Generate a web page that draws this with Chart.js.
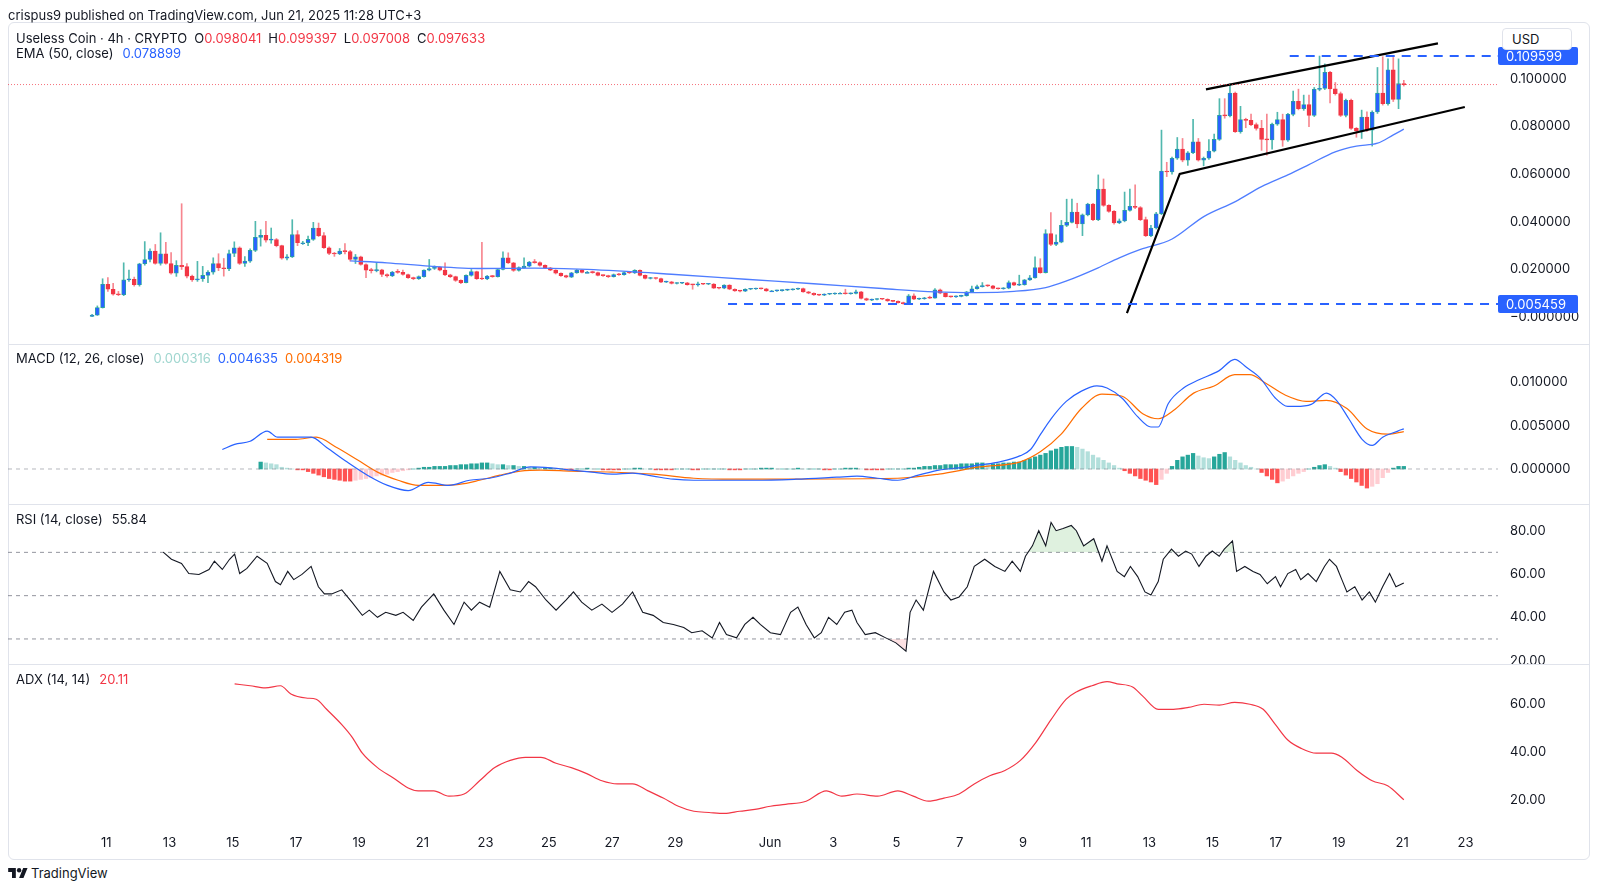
<!DOCTYPE html>
<html>
<head>
<meta charset="utf-8">
<title>Useless Coin 4h</title>
<script src="https://cdn.jsdelivr.net/npm/chart.js@4.4.1/dist/chart.umd.min.js"></script>
<style>
  html, body { margin: 0; padding: 0; background: #fff; }
  body { width: 1600px; height: 890px; position: relative; overflow: hidden;
         font-family: Inter, "Noto Sans", "Liberation Sans", sans-serif; font-size: 13px; color: #131722; }
  canvas, .t, .sep, #frame, #usd, #logo { position: absolute; }
  #frame { left: 8px; top: 22px; width: 1582px; height: 838px; border: 1px solid #e0e3eb;
           border-radius: 6px; box-sizing: border-box; }
  .sep { left: 8px; width: 1582px; height: 1px; background: #e0e3eb; }
  .t { white-space: nowrap; line-height: 16px; height: 16px; }
  .t span { margin-left: 7px; }
  .red { color: #f23645; }
  .blue { color: #2962ff; }
  .orange { color: #ff6d00; }
  .pale { color: #9fd6cf; }
  #usd { left: 1502px; top: 28px; width: 70px; height: 22px; border: 1px solid #e0e3eb; border-radius: 4px;
         box-sizing: border-box; line-height: 20px; padding-left: 9px; background: #fff; }
</style>
</head>
<body>
<div id="frame"></div>
<canvas id="cPrice" width="1582" height="322" style="left:8px;top:22px"></canvas>
<canvas id="cMacd" width="1582" height="160" style="left:8px;top:344px"></canvas>
<canvas id="cRsi" width="1582" height="160" style="left:8px;top:504px"></canvas>
<canvas id="cAdx" width="1582" height="196" style="left:8px;top:664px"></canvas>
<div class="sep" style="top:344px"></div>
<div class="sep" style="top:504px"></div>
<div class="sep" style="top:664px"></div>

<div class="t" style="left:8px;top:7px">crispus9 published on TradingView.com, Jun 21, 2025 11:28 UTC+3</div>
<div class="t" style="left:16px;top:30px">Useless Coin · 4h · CRYPTO<span>O<b class="red" style="font-weight:400">0.098041</b></span><span>H<b class="red" style="font-weight:400">0.099397</b></span><span>L<b class="red" style="font-weight:400">0.097008</b></span><span>C<b class="red" style="font-weight:400">0.097633</b></span></div>
<div class="t" style="left:16px;top:45px">EMA (50, close)<span class="blue" style="margin-left:9px">0.078899</span></div>
<div class="t" style="left:16px;top:350px">MACD (12, 26, close)<span class="pale" style="margin-left:9px">0.000316</span><span class="blue">0.004635</span><span class="orange">0.004319</span></div>
<div class="t" style="left:16px;top:511px">RSI (14, close)<span style="margin-left:9px">55.84</span></div>
<div class="t" style="left:16px;top:671px">ADX (14, 14)<span class="red" style="margin-left:9px">20.11</span></div>
<div id="usd">USD</div>
<svg id="logo" style="left:8px;top:867px" width="20" height="12" viewBox="0 0 36 22">
  <path d="M14 20H7V9H0V2h14v18zM28 20h-8l7.5-18h8L28 20z" fill="#131722"/>
  <circle cx="20" cy="6" r="4" fill="#131722"/>
</svg>
<div class="t" style="left:31px;top:865px">TradingView</div>

<script>
// ---------- data ----------
// x axis is a day number: May 1 = 1, so Jun 1 = 32, Jun 21 = 52
const tickDays   = [11, 13, 15, 17, 19, 21, 23, 25, 27, 29, 32, 34, 36, 38, 40, 42, 44, 46, 48, 50, 52, 54];
const tickLabels = ['11', '13', '15', '17', '19', '21', '23', '25', '27', '29', 'Jun', '3', '5', '7', '9', '11', '13', '15', '17', '19', '21', '23'];

// 4h candles, prices in units of 0.0001 USD
const candleStart = 10.55;
const candleStep = 1 / 6;
const opens = [
  3, 8, 40, 138, 117, 96, 94, 156, 159, 136,
  224, 242, 277, 225, 266, 225, 184, 217, 212, 172,
  156, 161, 175, 189, 225, 207, 203, 267, 291, 225,
  235, 280, 335, 343, 323, 325, 300, 247, 253, 346,
  312, 312, 326, 374, 342, 291, 267, 265, 277, 275,
  242, 253, 221, 197, 195, 199, 179, 173, 189, 188,
  179, 166, 161, 170, 197, 204, 210, 197, 177, 170,
  154, 145, 175, 191, 161, 160, 172, 170, 200, 249,
  228, 196, 208, 214, 231, 229, 217, 207, 197, 184,
  174, 168, 186, 197, 188, 188, 187, 175, 174, 170,
  179, 178, 187, 185, 196, 175, 162, 164, 162, 147,
  148, 141, 142, 144, 136, 135, 140, 138, 139, 122,
  121, 134, 117, 110, 109, 117, 118, 120, 119, 110,
  110, 111, 113, 115, 117, 120, 106, 100, 93, 92,
  96, 97, 100, 100, 98, 99, 106, 78, 71, 74,
  76, 75, 68, 66, 61, 56, 89, 75, 77, 81,
  80, 114, 100, 86, 85, 87, 90, 106, 119, 128,
  132, 131, 120, 119, 121, 145, 134, 136, 156, 165,
  208, 187, 351, 305, 315, 385, 398, 441, 391, 429,
  475, 409, 537, 469, 444, 395, 404, 448, 465, 460,
  409, 342, 374, 434, 613, 609, 667, 705, 659, 690,
  736, 659, 667, 697, 746, 847, 845, 941, 778, 829,
  826, 808, 792, 746, 744, 810, 829, 743, 851, 906,
  875, 892, 847, 956, 960, 1028, 958, 938, 847, 910,
  792, 782, 840, 785, 861, 940, 896, 1038, 914, 980
];
const highs = [
  12, 47, 161, 166, 142, 108, 228, 197, 168, 226,
  317, 287, 305, 354, 314, 271, 237, 476, 225, 176,
  234, 213, 195, 249, 266, 246, 281, 316, 295, 254,
  287, 402, 367, 402, 374, 330, 302, 262, 409, 363,
  318, 340, 398, 395, 355, 295, 272, 288, 309, 280,
  263, 256, 224, 205, 228, 201, 182, 192, 200, 197,
  181, 168, 173, 199, 242, 215, 212, 228, 180, 172,
  156, 178, 200, 193, 314, 175, 175, 203, 274, 270,
  230, 211, 249, 234, 242, 232, 219, 209, 199, 186,
  176, 188, 200, 199, 192, 193, 189, 178, 176, 181,
  184, 190, 190, 199, 198, 177, 167, 166, 164, 151,
  150, 145, 146, 146, 138, 147, 142, 141, 141, 124,
  136, 136, 119, 112, 119, 120, 122, 122, 121, 112,
  113, 115, 117, 119, 122, 122, 108, 102, 95, 98,
  99, 102, 103, 117, 102, 113, 108, 80, 76, 78,
  78, 77, 70, 68, 63, 95, 98, 80, 83, 88,
  120, 118, 102, 88, 89, 92, 108, 130, 134, 145,
  135, 133, 122, 124, 152, 147, 176, 158, 175, 253,
  245, 367, 439, 345, 406, 495, 495, 478, 433, 478,
  478, 597, 580, 472, 447, 412, 525, 537, 555, 464,
  420, 385, 440, 785, 650, 672, 754, 750, 695, 830,
  750, 672, 745, 768, 917, 917, 979, 945, 885, 835,
  852, 815, 826, 852, 815, 860, 852, 856, 949, 957,
  932, 932, 964, 1096, 1063, 1032, 985, 945, 915, 915,
  796, 869, 862, 866, 1048, 1093, 1084, 1090, 1084, 994
];
const lows = [
  2, 7, 38, 108, 92, 90, 90, 150, 130, 130,
  218, 232, 222, 218, 222, 180, 171, 200, 165, 150,
  150, 150, 145, 180, 195, 172, 195, 254, 221, 213,
  230, 275, 298, 315, 310, 295, 243, 240, 250, 300,
  305, 300, 322, 338, 288, 262, 255, 262, 265, 235,
  225, 218, 166, 185, 190, 170, 168, 170, 184, 176,
  162, 157, 158, 168, 194, 200, 194, 174, 166, 150,
  140, 143, 172, 158, 157, 157, 167, 168, 198, 225,
  192, 193, 205, 211, 226, 214, 204, 195, 181, 171,
  165, 166, 184, 185, 185, 184, 173, 171, 166, 168,
  175, 176, 183, 183, 173, 160, 160, 159, 145, 145,
  139, 139, 140, 134, 117, 130, 136, 136, 120, 118,
  119, 115, 108, 106, 107, 115, 116, 117, 108, 108,
  108, 109, 111, 113, 115, 104, 98, 91, 90, 90,
  94, 95, 98, 96, 96, 97, 76, 69, 69, 72,
  73, 66, 64, 59, 54, 55, 73, 73, 75, 78,
  79, 98, 84, 83, 83, 85, 88, 104, 117, 126,
  128, 118, 117, 117, 119, 132, 132, 134, 154, 163,
  184, 185, 300, 300, 312, 380, 395, 375, 342, 425,
  405, 405, 465, 440, 390, 392, 400, 445, 455, 405,
  338, 338, 370, 430, 590, 600, 662, 652, 637, 686,
  655, 635, 662, 694, 742, 835, 840, 775, 772, 795,
  804, 785, 700, 680, 705, 805, 717, 738, 845, 870,
  868, 800, 842, 950, 955, 899, 932, 842, 840, 788,
  755, 750, 780, 718, 855, 890, 890, 905, 875, 970
];
const closes = [
  8, 40, 138, 117, 96, 94, 156, 159, 136, 224,
  242, 277, 225, 266, 225, 184, 217, 212, 172, 156,
  161, 175, 189, 225, 207, 203, 267, 291, 225, 235,
  280, 335, 343, 323, 325, 300, 247, 253, 346, 312,
  312, 326, 374, 342, 291, 267, 265, 277, 275, 242,
  253, 221, 197, 195, 199, 179, 173, 189, 188, 179,
  166, 161, 170, 197, 204, 210, 197, 177, 170, 154,
  145, 175, 191, 161, 160, 172, 170, 200, 249, 228,
  196, 208, 214, 231, 229, 217, 207, 197, 184, 174,
  168, 186, 197, 188, 188, 187, 175, 174, 170, 179,
  178, 187, 185, 196, 175, 162, 164, 162, 147, 148,
  141, 142, 144, 136, 135, 140, 138, 139, 122, 121,
  134, 117, 110, 109, 117, 118, 120, 119, 110, 110,
  111, 113, 115, 117, 120, 106, 100, 93, 92, 96,
  97, 100, 100, 98, 99, 106, 78, 71, 74, 76,
  75, 68, 66, 61, 56, 89, 75, 77, 81, 80,
  114, 100, 86, 85, 87, 90, 106, 119, 128, 132,
  131, 120, 119, 121, 145, 134, 136, 156, 165, 208,
  187, 351, 305, 315, 385, 398, 441, 391, 429, 475,
  409, 537, 469, 444, 395, 404, 448, 465, 460, 409,
  342, 374, 434, 613, 609, 667, 705, 659, 690, 736,
  659, 667, 697, 746, 847, 845, 941, 778, 829, 826,
  808, 792, 746, 744, 810, 829, 743, 851, 906, 875,
  892, 847, 956, 960, 1028, 958, 938, 847, 910, 792,
  782, 840, 785, 861, 940, 896, 1038, 914, 980, 976
];
const PRICE_UNIT = 0.0001;

// EMA(50) knots, same unit
const emaDays = [18.72, 19.88, 21.22, 22.88, 24.55, 26.22, 28.88, 31.22, 33.38, 35.55,
  37.22, 38.55, 39.72, 40.72, 41.38, 42.38, 43.05, 43.72, 44.72, 45.72,
  46.72, 47.55, 48.38, 49.05, 49.88, 50.55, 51.22, 51.72, 52.05];
const emaVals = [236, 228, 214, 204, 206, 200, 180, 159, 140, 120,
  106, 103, 108, 124, 152, 207, 249, 284, 328, 422,
  485, 548, 597, 640, 694, 718, 730, 765, 789];

// drawn lines on the price pane [day, price]
const wedgeLower = [[43.29, 0.0017], [44.96, 0.0601], [53.98, 0.0882]];
const wedgeUpper = [[45.79, 0.0956], [53.13, 0.1149]];
const highLevel = 0.109599, highLevelFrom = 48.44;
const lowLevel = 0.005459, lowLevelFrom = 30.67;
const lastClose = 0.097633;

// MACD (12, 26), values in units of 0.0001
const macdDays = [14.67, 15.06, 15.55, 16.09, 16.42, 17.00, 17.48, 17.97, 18.61, 19.26,
  19.90, 20.55, 21.19, 21.84, 22.49, 23.13, 23.78, 24.42, 25.07, 25.71,
  26.36, 27.00, 27.65, 28.30, 28.94, 29.59, 30.23, 31.52, 32.82, 34.11,
  34.75, 35.40, 36.04, 36.69, 37.34, 37.98, 38.63, 39.27, 39.92, 40.24,
  40.56, 40.89, 41.37, 41.85, 42.34, 42.66, 43.14, 43.63, 44.05, 44.28,
  44.60, 45.08, 45.57, 46.21, 46.70, 47.08, 47.50, 47.99, 48.38, 48.63,
  49.12, 49.60, 49.92, 50.31, 50.73, 51.05, 51.38, 51.86, 52.05];
const macdVals = [22.5, 28.4, 32.0, 43.8, 36.7, 36.7, 36.7, 24.9, 8.3, -7.1,
  -18.9, -24.9, -15.4, -18.9, -13.0, -10.7, -4.7, 2.4, 1.2, -1.2,
  -3.6, -5.9, -4.7, -8.3, -11.8, -13.0, -13.0, -13.0, -11.8, -9.5,
  -8.3, -10.7, -13.0, -7.1, -1.2, 1.2, 4.7, 8.3, 15.4, 22.5,
  40.2, 58.0, 78.1, 89.9, 95.9, 93.5, 81.7, 60.4, 48.5, 48.5,
  75.7, 93.5, 103.0, 113.6, 126.6, 117.2, 105.3, 81.7, 72.2, 72.2,
  74.6, 87.6, 79.3, 58.0, 34.3, 27.2, 36.7, 43.8, 46.4];
const signalDays = [16.09, 17.00, 17.64, 18.29, 18.94, 19.58, 20.23, 20.87, 21.52, 22.16,
  22.81, 23.45, 24.10, 24.75, 25.71, 27.00, 28.30, 29.59, 30.88, 36.04,
  37.34, 38.63, 39.92, 40.56, 41.21, 41.85, 42.50, 43.14, 43.79, 44.28,
  44.76, 45.40, 46.05, 46.70, 47.18, 47.67, 48.31, 48.96, 49.60, 50.25,
  50.89, 51.54, 52.05];
const signalVals = [34.3, 34.3, 36.7, 24.9, 10.7, -3.6, -13.0, -18.9, -18.9, -17.8,
  -13.0, -7.1, -2.4, -1.2, -2.4, -3.6, -5.9, -10.7, -11.8, -10.7,
  -5.9, 2.4, 8.3, 20.1, 40.2, 69.8, 86.4, 84.0, 63.9, 58.0,
  67.5, 87.6, 95.9, 108.9, 108.9, 99.4, 85.2, 78.1, 79.3, 69.8,
  46.2, 40.2, 43.2];
// histogram per candle, starting at candle index histStart
const histStart = 32;
const histVals = [
  8, 7, 6, 5,
  2, 1, 0, -1, -1,
  -3, -5, -7, -9, -11, -12, -13, -14,
  -14, -13, -12, -11, -10, -8, -7, -6, -4, -3,
  -2, -1, 0, 1, 2, 2, 3, 3,
  3, 4, 4, 5, 5, 6, 6, 7, 7, 6, 5, 5, 4,
  4, 3, 3, 2, 2, 1, 1, 1, 0, 0, -1, -1, 0, 0, 1, 0, 0, -1, -1,
  -1, -1, 0, 0, 1, 1, 0, 0, -1, -1, -1, -1, 0, 0, 0, -1, -1, 0, 0, 0,
  0, 0, -1, -1, -1, 0, 0, 0, 1, 1, 1, 0, 0, 0, 0, 1, 0, 0, 0,
  0, -1, -1, 0, 0, 1, 1, 1, 0, -1, -1, -1, -1, 0, 0, 0, 0, 1, 1,
  2, 3, 3, 4, 4, 5, 5, 5, 6, 6, 6, 7, 7, 6, 6, 6, 7, 7, 8, 8,
  10, 12, 14, 16, 18, 21, 23, 25, 26, 26,
  25, 23, 20, 16, 13, 10, 7,
  4, 1, -2, -5, -8, -11, -13, -15, -18, -12, -5, 3,
  10, 14, 16, 18, 15, 13, 12, 14, 17, 19,
  14, 10, 7, 4, 2, 0,
  -4, -8, -12, -16, -14, -11, -8, -5, -3,
  0, 2, 4, 5, 3, 1,
  -3, -7, -11, -15, -19, -22, -20, -17,
  -10, -4, 1, 3, 3
];

// RSI (14)
const rsiDays = [12.80, 13.06, 13.38, 13.61, 13.93, 14.25, 14.42, 14.67, 14.90, 15.06,
  15.22, 15.45, 15.77, 16.09, 16.35, 16.51, 16.74, 16.93, 17.19, 17.48,
  17.71, 17.90, 18.13, 18.45, 18.77, 19.10, 19.32, 19.58, 19.84, 20.16,
  20.39, 20.71, 20.97, 21.36, 21.68, 22.00, 22.32, 22.55, 22.81, 23.13,
  23.45, 23.78, 24.10, 24.36, 24.58, 24.91, 25.23, 25.55, 25.78, 26.04,
  26.36, 26.68, 27.00, 27.33, 27.65, 27.97, 28.30, 28.62, 28.94, 29.27,
  29.52, 29.85, 30.17, 30.40, 30.62, 30.94, 31.20, 31.46, 31.69, 32.01,
  32.33, 32.65, 32.88, 33.14, 33.40, 33.62, 33.85, 34.11, 34.36, 34.59,
  34.75, 35.01, 35.33, 35.66, 35.98, 36.30, 36.43, 36.62, 36.85, 37.17,
  37.50, 37.72, 37.98, 38.24, 38.46, 38.79, 39.11, 39.43, 39.66, 39.92,
  40.08, 40.30, 40.50, 40.72, 40.89, 41.05, 41.27, 41.53, 41.69, 41.92,
  42.24, 42.50, 42.66, 42.98, 43.21, 43.40, 43.63, 43.86, 44.05, 44.28,
  44.44, 44.70, 44.92, 45.15, 45.34, 45.57, 45.79, 45.99, 46.21, 46.37,
  46.63, 46.76, 47.02, 47.28, 47.50, 47.73, 47.99, 48.15, 48.38, 48.63,
  48.79, 49.02, 49.28, 49.54, 49.70, 49.92, 50.09, 50.25, 50.50, 50.73,
  50.96, 51.15, 51.38, 51.60, 51.80, 52.05];
const rsiVals = [70.1, 66.8, 64.9, 60.2, 59.8, 62.1, 65.9, 62.1, 66.8, 69.2,
  60.2, 62.6, 68.2, 64.9, 56.5, 55.0, 61.2, 57.4, 59.8, 63.5,
  54.1, 50.8, 50.8, 52.7, 47.0, 40.9, 43.3, 40.0, 42.3, 40.9,
  42.3, 38.5, 44.7, 50.8, 43.3, 36.7, 47.0, 43.3, 47.0, 44.7,
  61.2, 52.7, 51.7, 56.5, 54.1, 48.0, 43.3, 48.0, 51.7, 47.0,
  43.3, 46.1, 42.3, 46.1, 51.7, 42.3, 40.9, 37.6, 36.7, 35.3,
  32.9, 33.8, 30.5, 37.6, 32.0, 30.5, 36.7, 40.0, 36.7, 32.9,
  32.0, 42.3, 44.7, 36.7, 30.5, 32.9, 40.0, 36.7, 42.3, 43.3,
  37.6, 32.0, 32.9, 30.5, 28.2, 24.4, 42.3, 48.0, 43.3, 61.2,
  51.7, 48.0, 49.4, 54.1, 63.5, 66.8, 63.5, 61.2, 65.9, 61.2,
  68.2, 73.0, 80.0, 73.0, 83.8, 80.0, 81.0, 82.4, 80.0, 73.0,
  76.3, 65.9, 73.0, 61.2, 58.8, 63.5, 58.8, 51.7, 50.3, 56.5,
  66.8, 71.5, 68.2, 70.6, 69.2, 63.5, 68.2, 70.6, 68.2, 71.5,
  75.3, 61.2, 63.5, 61.2, 59.8, 55.5, 58.8, 54.1, 60.2, 62.1,
  57.4, 60.2, 56.5, 63.5, 66.8, 63.5, 57.4, 51.7, 54.1, 48.0,
  51.7, 47.0, 54.1, 60.2, 54.1, 55.8];

// ADX (14, 14)
const adxDays = [15.06, 15.55, 16.03, 16.51, 16.84, 17.32, 17.64, 17.97, 18.45, 18.77,
  19.10, 19.58, 20.07, 20.55, 20.87, 21.36, 21.84, 22.32, 22.81, 23.29,
  23.78, 24.26, 24.75, 25.23, 25.71, 26.20, 26.68, 27.17, 27.65, 28.14,
  28.62, 29.10, 29.59, 30.07, 30.56, 31.04, 31.52, 32.01, 32.49, 33.14,
  33.78, 34.27, 34.75, 35.40, 36.04, 36.53, 37.01, 37.50, 37.98, 38.46,
  38.95, 39.43, 39.92, 40.40, 40.89, 41.37, 41.69, 42.18, 42.66, 42.98,
  43.47, 43.79, 44.28, 44.76, 45.24, 45.73, 46.21, 46.70, 47.18, 47.60,
  47.99, 48.38, 48.79, 49.28, 49.76, 50.09, 50.57, 51.05, 51.54, 52.05];
const adxVals = [68.4, 67.6, 66.7, 67.6, 64.2, 62.5, 62.0, 57.8, 51.4, 46.3,
  39.5, 33.5, 29.3, 25.0, 23.8, 23.8, 21.6, 22.5, 28.0, 33.5,
  36.5, 37.8, 37.8, 35.3, 33.5, 31.0, 28.0, 26.7, 26.7, 23.8,
  20.8, 17.4, 15.3, 14.8, 14.4, 15.3, 16.1, 17.4, 18.2, 19.5,
  23.8, 21.6, 22.5, 21.6, 23.8, 21.6, 19.5, 20.8, 22.5, 26.7,
  30.1, 32.3, 36.5, 43.8, 53.5, 62.0, 65.0, 67.6, 69.3, 68.4,
  67.1, 63.3, 57.8, 57.8, 58.6, 59.9, 59.5, 60.7, 59.9, 57.8,
  51.4, 45.0, 41.6, 39.5, 39.5, 37.8, 32.3, 28.0, 25.9, 20.1];

const priceTicks = [0, 0.02, 0.04, 0.06, 0.08, 0.1];
const macdTicks = [0, 0.005, 0.01];
const rsiTicks = [20, 40, 60, 80];
const adxTicks = [20, 40, 60];

// ---------- chart setup ----------
const X_MIN = 7.89, X_MAX = 55.03;
const FONT = 'Inter, "Noto Sans", "Liberation Sans", sans-serif';
const TEXT = '#131722';

function xAxis(show) {
  return {
    type: 'linear', min: X_MIN, max: X_MAX, offset: false, display: show,
    grid: { display: false, drawTicks: false }, border: { display: false },
    afterBuildTicks: s => { s.ticks = tickDays.map(v => ({ value: v })); },
    afterFit: s => {
      // hidden axes must not take any room
      s.height = show ? 32 : 0;
      s.paddingLeft = 0; s.paddingRight = 0;
    },
    ticks: {
      autoSkip: false, maxRotation: 0, padding: 7, color: TEXT, font: { family: FONT, size: 13 },
      callback: v => tickLabels[tickDays.indexOf(v)]
    }
  };
}

function yAxis(min, max, ticks, fmt) {
  return {
    position: 'right', min: min, max: max,
    grid: { display: false, drawTicks: false }, border: { display: false },
    afterBuildTicks: s => { s.ticks = ticks.map(v => ({ value: v })); },
    afterFit: s => { s.width = 92; s.paddingTop = 0; s.paddingBottom = 0; },
    ticks: { padding: 12, color: TEXT, font: { family: FONT, size: 13 }, callback: fmt }
  };
}

function makeChart(id, yMin, yMax, yTicks, yFmt, showX, datasets, plugins) {
  return new Chart(document.getElementById(id), {
    type: 'bar',
    data: { datasets: datasets },
    options: {
      responsive: false, animation: false, events: [],
      layout: { padding: 0 },
      plugins: { legend: { display: false }, tooltip: { enabled: false } },
      scales: { x: xAxis(showX), y: yAxis(yMin, yMax, yTicks, yFmt) }
    },
    plugins: plugins || []
  });
}

function pts(days, vals, k) {
  return days.map((d, i) => ({ x: d, y: vals[i] * k }));
}

function line(data, color, width, extra) {
  return Object.assign({
    type: 'line', data: data, borderColor: color, borderWidth: width,
    pointRadius: 0, fill: false, tension: 0, order: 1
  }, extra || {});
}

function hline(value, from, color, width, dash) {
  return line([{ x: from, y: value }, { x: X_MAX, y: value }], color, width, { borderDash: dash });
}

// ---------- price pane ----------
const candleX = opens.map((_, i) => candleStart + i * candleStep);
const isUp = closes.map((c, i) => c >= opens[i]);

const priceTags = {
  id: 'priceTags',
  afterDraw(chart) {
    const ctx = chart.ctx, y = chart.scales.y, right = chart.chartArea.right;
    ctx.save();
    for (const lv of [highLevel, lowLevel]) {
      const py = Math.round(y.getPixelForValue(lv));
      ctx.fillStyle = '#2962ff';
      ctx.beginPath();
      ctx.roundRect(right, py - 9, 80, 18, 2);
      ctx.fill();
      ctx.fillStyle = '#ffffff';
      ctx.font = '13px ' + FONT;
      ctx.textBaseline = 'middle';
      ctx.fillText(lv.toFixed(6), right + 8, py + 1);
    }
    ctx.restore();
  }
};

makeChart('cPrice', -0.01129, 0.12389, priceTicks,
  v => v === 0 ? '\u22120.000000' : v.toFixed(6), false, [
    hline(lastClose, X_MIN, 'rgba(242,54,69,0.7)', 1, [1, 2]),
    {
      label: 'wicks', data: candleX.map((x, i) => ({ x: x, y: [lows[i] * PRICE_UNIT, highs[i] * PRICE_UNIT] })),
      backgroundColor: isUp.map(u => u ? 'rgba(38,166,154,0.8)' : 'rgba(242,54,69,0.6)'),
      barThickness: 1, grouped: false, minBarLength: 1, order: 5
    },
    {
      label: 'bodies', data: candleX.map((x, i) => ({ x: x, y: [opens[i] * PRICE_UNIT, closes[i] * PRICE_UNIT] })),
      backgroundColor: isUp.map(u => u ? '#2962ff' : '#f23645'),
      borderColor: isUp.map(u => u ? '#26a69a' : '#f23645'),
      borderWidth: 0.8, borderSkipped: false,
      barThickness: 4, grouped: false, minBarLength: 1, order: 4
    },
    line(pts(emaDays, emaVals, PRICE_UNIT), '#4f7dff', 1.3, { cubicInterpolationMode: 'monotone', order: 3 }),
    line(wedgeLower.map(p => ({ x: p[0], y: p[1] })), '#000000', 2.2, { order: 2 }),
    line(wedgeUpper.map(p => ({ x: p[0], y: p[1] })), '#000000', 2.2, { order: 2 }),
    hline(highLevel, highLevelFrom, '#2962ff', 2, [9, 7]),
    hline(lowLevel, lowLevelFrom, '#2962ff', 2, [9, 7])
  ], [priceTags]);

// ---------- MACD pane ----------
const histColors = histVals.map((v, j) => {
  const p = j ? histVals[j - 1] : v;
  if (v >= 0) return v >= p ? '#26a69a' : '#b2dfdb';
  return v <= p ? '#ff5252' : '#ffcdd2';
});

makeChart('cMacd', -0.004042, 0.014434, macdTicks, v => v.toFixed(6), false, [
  hline(0, X_MIN, 'rgba(120,123,134,0.55)', 1, [4, 4]),
  {
    label: 'hist', data: histVals.map((v, j) => ({ x: candleStart + (histStart + j) * candleStep, y: v * 0.0001 })),
    backgroundColor: histColors, barThickness: 3.6, grouped: false, order: 4
  },
  line(pts(macdDays, macdVals, 0.0001), '#2962ff', 1.2, { cubicInterpolationMode: 'monotone' }),
  line(pts(signalDays, signalVals, 0.0001), '#ff6d00', 1.2, { cubicInterpolationMode: 'monotone' })
]);

// ---------- RSI pane ----------
const rsiPts = pts(rsiDays, rsiVals, 1);
makeChart('cRsi', 18.43, 92.33, rsiTicks, v => v.toFixed(2), false, [
  hline(70, X_MIN, 'rgba(120,123,134,0.8)', 1, [4, 4]),
  hline(50, X_MIN, 'rgba(120,123,134,0.8)', 1, [4, 4]),
  hline(30, X_MIN, 'rgba(120,123,134,0.8)', 1, [4, 4]),
  line(rsiPts, '#131722', 1.1, {
    order: 0,
    fill: { target: { value: 70 }, above: 'rgba(76,175,80,0.18)', below: 'rgba(0,0,0,0)' }
  }),
  line(rsiPts, 'rgba(0,0,0,0)', 0, {
    order: 2,
    fill: { target: { value: 30 }, above: 'rgba(0,0,0,0)', below: 'rgba(242,54,69,0.15)' }
  })
]);

// ---------- ADX pane ----------
makeChart('cAdx', 8.33, 76.67, adxTicks, v => v.toFixed(2), true, [
  line(pts(adxDays, adxVals, 1), '#f23645', 1.2, { cubicInterpolationMode: 'monotone' })
]);
</script>
</body>
</html>
